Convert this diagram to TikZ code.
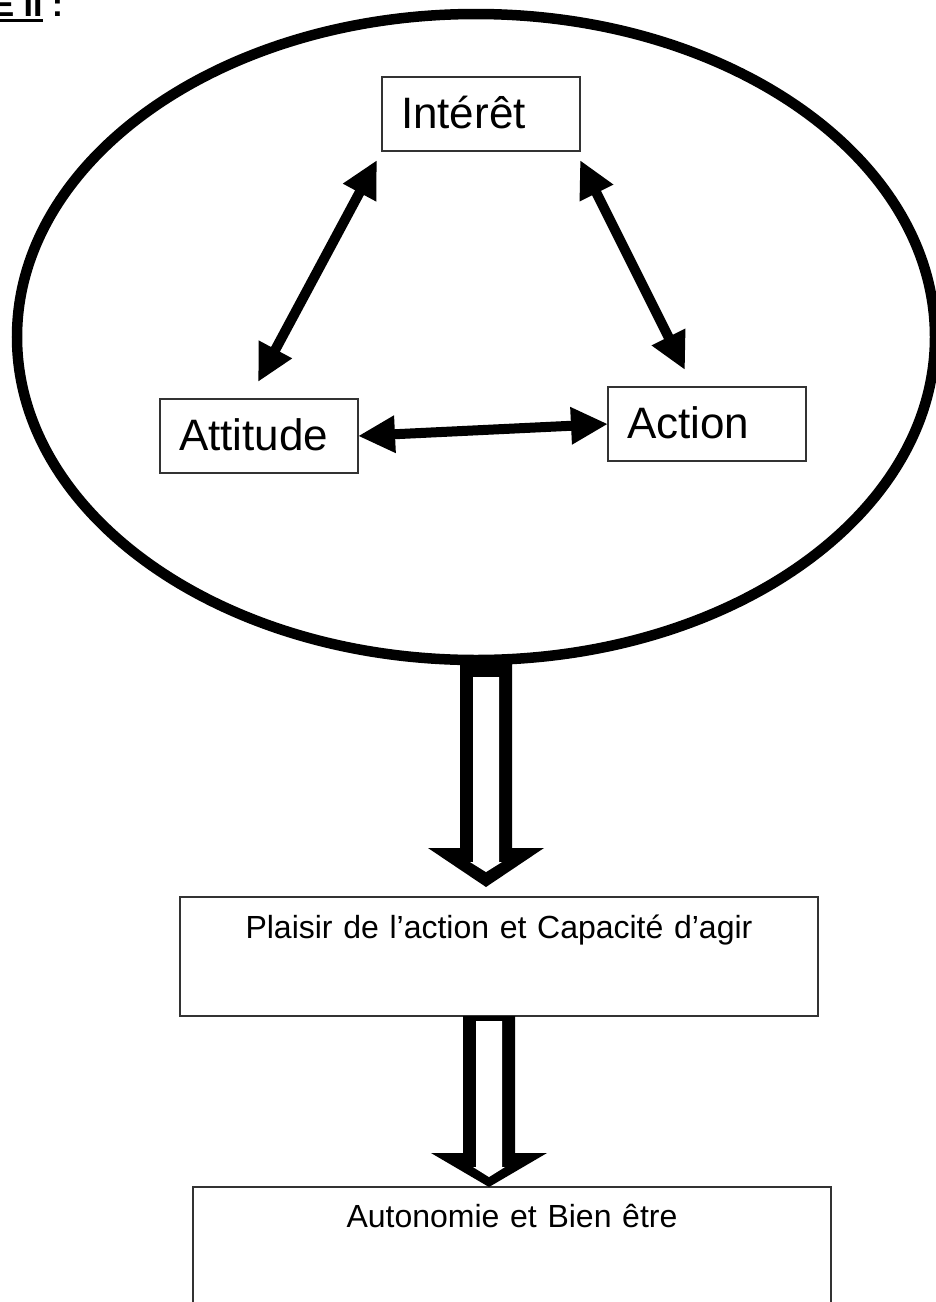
\documentclass[tikz,border=0pt]{standalone}
\usepackage{fontspec}
\setmainfont{Liberation Sans}
\newcommand{\souligne}[1]{\setbox0\hbox{#1}\rlap{\rule[-6pt]{\wd0}{3pt}}\box0{}}
\usetikzlibrary{shapes.geometric,arrows.meta,calc}

\tikzset{
  boite/.style={draw=black!80, line width=1.5pt, inner ysep=0pt, outer sep=0pt},
  petiteboite/.style={boite, text width=160pt, inner xsep=19pt, align=left,
    text height=51pt, text depth=23pt, font=\fontsize{44}{44}\selectfont},
  grandeboite/.style={boite, text width=638pt, inner xsep=0pt, align=center,
    font=\fontsize{32}{32}\selectfont},
  doublefleche/.style={line width=10pt,
    {Triangle[length=37pt,width=35pt]}-{Triangle[length=37pt,width=35pt]}}
}

\begin{document}
\begin{tikzpicture}[x=1pt,y=-1pt]
\useasboundingbox (0,0) rectangle (935,1302);

\node[anchor=base west, font=\fontsize{34}{34}\selectfont\bfseries] (titre) at (-12,16) {\souligne{E II} :};

\node[draw, ellipse, line width=10.5pt, minimum width=918pt, minimum height=646pt,
  inner sep=0pt, outer sep=0pt] (cercle) at (476,337) {};

\node[petiteboite, anchor=north west] (interet) at (382,77) {Intérêt};
\node[petiteboite, anchor=north west] (attitude) at (160,399) {Attitude};
\node[petiteboite, anchor=north west] (action) at (608,387) {Action};

\draw[doublefleche] ([shift={(-5,9)}]interet.south west) -- ([shift={(98,-17)}]attitude.north west);
\draw[doublefleche] ([shift={(0,9)}]interet.south east) -- ([shift={(77,-17)}]action.north west);
\draw[doublefleche] (attitude.east) -- (action.west);

\node[grandeboite, anchor=north west, text height=41pt, text depth=78pt] (plaisir) at (180,897)
  {Plaisir de l’action et Capacité d’agir};
\node[grandeboite, anchor=north west, text height=40pt, text depth=103pt] (autonomie) at (193,1187)
  {Autonomie et Bien être};

% fleches creuses
\foreach \de/\vers/\dx/\haut/\ecart/\tete in {cercle/plaisir/10/17/10/39, plaisir/autonomie/-10/5/0/34}{
  \fill let \p1=([xshift=\dx*1pt]\de.south), \p2=([yshift=\ecart*1pt]\vers.north) in
    (\x1-26pt,\y1) -- (\x1-26pt,\y2+\tete*1pt) -- (\x1-58pt,\y2+\tete*1pt) -- (\x1,\y2)
    -- (\x1+58pt,\y2+\tete*1pt) -- (\x1+26pt,\y2+\tete*1pt) -- (\x1+26pt,\y1) -- cycle;
  \fill[white] let \p1=([xshift=\dx*1pt]\de.south), \p2=([yshift=\ecart*1pt]\vers.north) in
    (\x1-13pt,\y1-\haut*1pt) -- (\x1-13pt,\y2+\tete*1pt-14pt) -- (\x1-16pt,\y2+\tete*1pt-14pt)
    -- (\x1,\y2+\tete*1pt-24pt) -- (\x1+16pt,\y2+\tete*1pt-14pt) -- (\x1+13pt,\y2+\tete*1pt-14pt)
    -- (\x1+13pt,\y1-\haut*1pt) -- cycle;
}
\end{tikzpicture}
\end{document}
